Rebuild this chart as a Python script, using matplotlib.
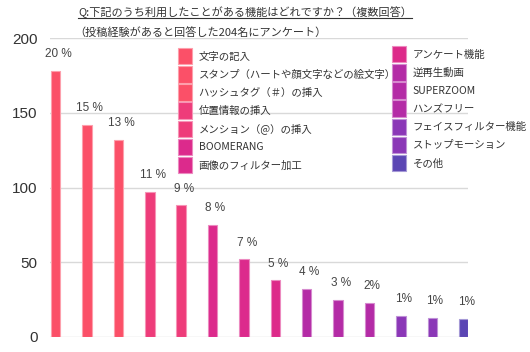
import matplotlib
matplotlib.use("Agg")
import matplotlib.pyplot as plt
from matplotlib.lines import Line2D
import matplotlib.colors as mcolors

plt.rcParams['font.family'] = ['Liberation Sans', 'Noto Sans CJK JP', 'DejaVu Sans']

features = ["文字の記入", "スタンプ（ハートや顔文字などの絵文字）", "ハッシュタグ（＃）の挿入",
            "位置情報の挿入", "メンション（@）の挿入", "BOOMERANG", "画像のフィルター加工",
            "アンケート機能", "逆再生動画", "SUPERZOOM", "ハンズフリー",
            "フェイスフィルター機能", "ストップモーション", "その他"]
counts = [178, 142, 132, 97, 88, 75, 52, 38, 32, 25, 23, 14, 13, 12]
pct_labels = ["20 %", "15 %", "13 %", "11 %", "9 %", "8 %", "7 %", "5 %", "4 %", "3 %",
              "2%", "1%", "1%", "1%"]
bar_colors = ["#fb5068", "#fb5068", "#fb5068", "#ee3c7a", "#ee3c7a", "#dc2a8c", "#dc2a8c",
              "#dd2a8a", "#b42ba6", "#b42ba6", "#b42ba6", "#8b37b7", "#8b37b7", "#5b46b4"]

title = "Q:下記のうち利用したことがある機能はどれですか？（複数回答）"
subtitle = "（投稿経験があると回答した204名にアンケート）"

fig = plt.figure(figsize=(5.30, 3.52), dpi=100)
ax = fig.add_axes([50 / 530, 1 - 337 / 352, 418 / 530, 299 / 352])

x = list(range(len(counts)))
edges = [tuple(0.55 * c + 0.45 for c in mcolors.to_rgb(col)) for col in bar_colors]
bars = ax.bar(x, counts, width=0.3, color=bar_colors, edgecolor=edges, linewidth=0.8, zorder=3)

for xi, v, lab in zip(x, counts, pct_labels):
    ax.annotate(lab, (xi, v), xytext=(2, 12), textcoords="offset points",
                ha="center", va="center", fontsize=8.5, color="#444444")

ax.set_xlim(-0.18, 13.14)
ax.set_ylim(0, 200)
ax.set_yticks([0, 50, 100, 150, 200])
ax.set_xticks([])
ax.tick_params(axis="y", length=0, pad=9, labelsize=11, labelcolor="#333333")
ax.grid(axis="y", color="#d9d9d9", linewidth=1, zorder=0)
for s in ax.spines.values():
    s.set_visible(False)

leg_kw = dict(frameon=False, handleheight=2.06, handlelength=1.35,
              handletextpad=0.62, labelspacing=0.16, borderpad=0, borderaxespad=0,
              loc="upper left", prop={"family": ["Noto Sans CJK JP", "DejaVu Sans"], "size": 7.5})
leg1 = fig.legend(bars[:7], features[:7], bbox_to_anchor=(178 / 530, 1 - 48 / 352), **leg_kw)
leg2 = fig.legend(bars[7:], features[7:], bbox_to_anchor=(392 / 530, 1 - 46 / 352), **leg_kw)
for leg in (leg1, leg2):
    for t in leg.get_texts():
        t.set_color("#333333")

fig.text(78 / 530, 1 - 12.5 / 352, title, fontsize=8, va="center", ha="left",
         color="#333333", family=["Noto Sans CJK JP", "DejaVu Sans"])
fig.add_artist(Line2D([78 / 530, 412 / 530], [1 - 17.5 / 352, 1 - 17.5 / 352],
                      color="#333333", linewidth=0.8))
fig.text(74 / 530, 1 - 32 / 352, subtitle, fontsize=8, va="center", ha="left",
         color="#333333", family=["Noto Sans CJK JP", "DejaVu Sans"])

fig.savefig("out.png", dpi=100)
